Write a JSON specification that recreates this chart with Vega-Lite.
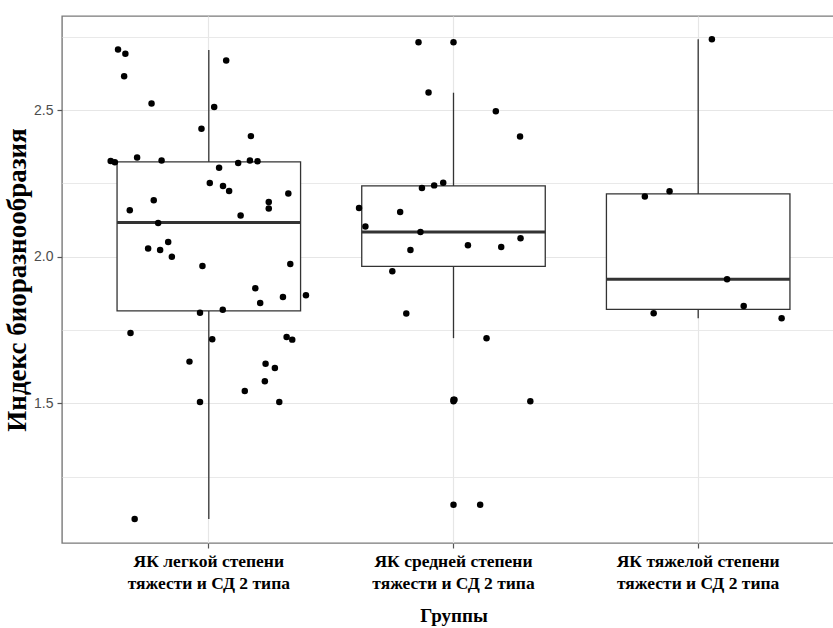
{
  "$schema": "https://vega.github.io/schema/vega-lite/v6.json",
  "width": 783,
  "height": 527,
  "autosize": {"type": "none"},
  "padding": {"left": 62, "top": 16, "right": 0, "bottom": 85},
  "background": "white",
  "resolve": {"scale": {"xOffset": "independent"}},
  "datasets": {
    "stats": [
      {"g": "ЯК легкой степени тяжести и СД 2 типа", "lower": 1.105, "q1": 1.815, "median": 2.116, "q3": 2.323, "upper": 2.705},
      {"g": "ЯК средней степени тяжести и СД 2 типа", "lower": 1.722, "q1": 1.967, "median": 2.084, "q3": 2.241, "upper": 2.559},
      {"g": "ЯК тяжелой степени тяжести и СД 2 типа", "lower": 1.790, "q1": 1.820, "median": 1.923, "q3": 2.214, "upper": 2.741}
    ],
    "outliers": [
      {"g": "ЯК средней степени тяжести и СД 2 типа", "value": 2.731},
      {"g": "ЯК средней степени тяжести и СД 2 типа", "value": 1.512},
      {"g": "ЯК средней степени тяжести и СД 2 типа", "value": 1.507},
      {"g": "ЯК средней степени тяжести и СД 2 типа", "value": 1.154}
    ],
    "points": [
      {"g": "ЯК легкой степени тяжести и СД 2 типа", "value": 2.706, "j": -0.371},
      {"g": "ЯК легкой степени тяжести и СД 2 типа", "value": 2.692, "j": -0.341},
      {"g": "ЯК легкой степени тяжести и СД 2 типа", "value": 2.615, "j": -0.346},
      {"g": "ЯК легкой степени тяжести и СД 2 типа", "value": 2.522, "j": -0.234},
      {"g": "ЯК легкой степени тяжести и СД 2 типа", "value": 2.669, "j": 0.071},
      {"g": "ЯК легкой степени тяжести и СД 2 типа", "value": 2.510, "j": 0.022},
      {"g": "ЯК легкой степени тяжести и СД 2 типа", "value": 2.436, "j": -0.030},
      {"g": "ЯК легкой степени тяжести и СД 2 типа", "value": 2.411, "j": 0.172},
      {"g": "ЯК легкой степени тяжести и СД 2 типа", "value": 2.326, "j": -0.401},
      {"g": "ЯК легкой степени тяжести и СД 2 типа", "value": 2.322, "j": -0.384},
      {"g": "ЯК легкой степени тяжести и СД 2 типа", "value": 2.338, "j": -0.293},
      {"g": "ЯК легкой степени тяжести и СД 2 типа", "value": 2.328, "j": -0.193},
      {"g": "ЯК легкой степени тяжести и СД 2 типа", "value": 2.303, "j": 0.042},
      {"g": "ЯК легкой степени тяжести и СД 2 типа", "value": 2.319, "j": 0.120},
      {"g": "ЯК легкой степени тяжести и СД 2 типа", "value": 2.328, "j": 0.168},
      {"g": "ЯК легкой степени тяжести и СД 2 типа", "value": 2.325, "j": 0.199},
      {"g": "ЯК легкой степени тяжести и СД 2 типа", "value": 2.251, "j": 0.004},
      {"g": "ЯК легкой степени тяжести и СД 2 типа", "value": 2.241, "j": 0.058},
      {"g": "ЯК легкой степени тяжести и СД 2 типа", "value": 2.224, "j": 0.083},
      {"g": "ЯК легкой степени тяжести и СД 2 типа", "value": 2.215, "j": 0.325},
      {"g": "ЯК легкой степени тяжести и СД 2 типа", "value": 2.192, "j": -0.225},
      {"g": "ЯК легкой степени тяжести и СД 2 типа", "value": 2.158, "j": -0.323},
      {"g": "ЯК легкой степени тяжести и СД 2 типа", "value": 2.186, "j": 0.245},
      {"g": "ЯК легкой степени тяжести и СД 2 типа", "value": 2.164, "j": 0.245},
      {"g": "ЯК легкой степени тяжести и СД 2 типа", "value": 2.140, "j": 0.130},
      {"g": "ЯК легкой степени тяжести и СД 2 типа", "value": 2.115, "j": -0.207},
      {"g": "ЯК легкой степени тяжести и СД 2 типа", "value": 2.050, "j": -0.166},
      {"g": "ЯК легкой степени тяжести и СД 2 типа", "value": 2.028, "j": -0.248},
      {"g": "ЯК легкой степени тяжести и СД 2 типа", "value": 2.023, "j": -0.199},
      {"g": "ЯК легкой степени тяжести и СД 2 типа", "value": 2.000, "j": -0.151},
      {"g": "ЯК легкой степени тяжести и СД 2 типа", "value": 1.968, "j": -0.026},
      {"g": "ЯК легкой степени тяжести и СД 2 типа", "value": 1.975, "j": 0.333},
      {"g": "ЯК легкой степени тяжести и СД 2 типа", "value": 1.892, "j": 0.190},
      {"g": "ЯК легкой степени тяжести и СД 2 типа", "value": 1.862, "j": 0.303},
      {"g": "ЯК легкой степени тяжести и СД 2 типа", "value": 1.868, "j": 0.397},
      {"g": "ЯК легкой степени тяжести и СД 2 типа", "value": 1.842, "j": 0.210},
      {"g": "ЯК легкой степени тяжести и СД 2 типа", "value": 1.809, "j": -0.036},
      {"g": "ЯК легкой степени тяжести и СД 2 типа", "value": 1.819, "j": 0.057},
      {"g": "ЯК легкой степени тяжести и СД 2 типа", "value": 1.740, "j": -0.320},
      {"g": "ЯК легкой степени тяжести и СД 2 типа", "value": 1.718, "j": 0.014},
      {"g": "ЯК легкой степени тяжести и СД 2 типа", "value": 1.726, "j": 0.318},
      {"g": "ЯК легкой степени тяжести и СД 2 типа", "value": 1.717, "j": 0.341},
      {"g": "ЯК легкой степени тяжести и СД 2 типа", "value": 1.642, "j": -0.079},
      {"g": "ЯК легкой степени тяжести и СД 2 типа", "value": 1.635, "j": 0.232},
      {"g": "ЯК легкой степени тяжести и СД 2 типа", "value": 1.620, "j": 0.270},
      {"g": "ЯК легкой степени тяжести и СД 2 типа", "value": 1.575, "j": 0.229},
      {"g": "ЯК легкой степени тяжести и СД 2 типа", "value": 1.542, "j": 0.147},
      {"g": "ЯК легкой степени тяжести и СД 2 типа", "value": 1.504, "j": -0.036},
      {"g": "ЯК легкой степени тяжести и СД 2 типа", "value": 1.504, "j": 0.288},
      {"g": "ЯК легкой степени тяжести и СД 2 типа", "value": 1.105, "j": -0.303},
      {"g": "ЯК средней степени тяжести и СД 2 типа", "value": 2.731, "j": -0.143},
      {"g": "ЯК средней степени тяжести и СД 2 типа", "value": 2.560, "j": -0.102},
      {"g": "ЯК средней степени тяжести и СД 2 типа", "value": 2.496, "j": 0.173},
      {"g": "ЯК средней степени тяжести и СД 2 типа", "value": 2.410, "j": 0.272},
      {"g": "ЯК средней степени тяжести и СД 2 типа", "value": 2.234, "j": -0.129},
      {"g": "ЯК средней степени тяжести и СД 2 типа", "value": 2.243, "j": -0.079},
      {"g": "ЯК средней степени тяжести и СД 2 типа", "value": 2.252, "j": -0.042},
      {"g": "ЯК средней степени тяжести и СД 2 типа", "value": 2.166, "j": -0.386},
      {"g": "ЯК средней степени тяжести и СД 2 типа", "value": 2.152, "j": -0.218},
      {"g": "ЯК средней степени тяжести и СД 2 типа", "value": 2.103, "j": -0.360},
      {"g": "ЯК средней степени тяжести и СД 2 типа", "value": 2.084, "j": -0.135},
      {"g": "ЯК средней степени тяжести и СД 2 типа", "value": 2.023, "j": -0.176},
      {"g": "ЯК средней степени тяжести и СД 2 типа", "value": 2.039, "j": 0.059},
      {"g": "ЯК средней степени тяжести и СД 2 типа", "value": 2.033, "j": 0.195},
      {"g": "ЯК средней степени тяжести и СД 2 типа", "value": 2.063, "j": 0.274},
      {"g": "ЯК средней степени тяжести и СД 2 типа", "value": 1.950, "j": -0.250},
      {"g": "ЯК средней степени тяжести и СД 2 типа", "value": 1.806, "j": -0.193},
      {"g": "ЯК средней степени тяжести и СД 2 типа", "value": 1.722, "j": 0.135},
      {"g": "ЯК средней степени тяжести и СД 2 типа", "value": 1.512, "j": 0.004},
      {"g": "ЯК средней степени тяжести и СД 2 типа", "value": 1.507, "j": 0.314},
      {"g": "ЯК средней степени тяжести и СД 2 типа", "value": 1.154, "j": 0.109},
      {"g": "ЯК тяжелой степени тяжести и СД 2 типа", "value": 2.741, "j": 0.056},
      {"g": "ЯК тяжелой степени тяжести и СД 2 типа", "value": 2.205, "j": -0.218},
      {"g": "ЯК тяжелой степени тяжести и СД 2 типа", "value": 2.223, "j": -0.117},
      {"g": "ЯК тяжелой степени тяжести и СД 2 типа", "value": 1.923, "j": 0.118},
      {"g": "ЯК тяжелой степени тяжести и СД 2 типа", "value": 1.832, "j": 0.186},
      {"g": "ЯК тяжелой степени тяжести и СД 2 типа", "value": 1.807, "j": -0.182},
      {"g": "ЯК тяжелой степени тяжести и СД 2 типа", "value": 1.790, "j": 0.341}
    ]
  },
  "config": {
    "view": {"stroke": "#7a7a7a", "strokeWidth": 1.4},
    "axis": {
      "domain": false,
      "gridColor": "#e6e6e6",
      "tickColor": "#555555",
      "tickSize": 5,
      "tickWidth": 1.2,
      "titleColor": "#000000",
      "titleFont": "Liberation Serif",
      "titleFontWeight": "bold"
    }
  },
  "encoding": {
    "x": {
      "field": "g",
      "type": "nominal",
      "sort": ["ЯК легкой степени тяжести и СД 2 типа", "ЯК средней степени тяжести и СД 2 типа", "ЯК тяжелой степени тяжести и СД 2 типа"],
      "scale": {"paddingInner": 0.25, "paddingOuter": 0.225},
      "title": "Группы",
      "axis": {
        "labelAngle": 0,
        "labelFont": "Liberation Serif",
        "labelFontWeight": "bold",
        "labelFontSize": 17.5,
        "labelColor": "#000000",
        "labelLineHeight": 22,
        "labelPadding": 4,
        "labelLimit": 300,
        "labelExpr": "[slice(datum.label, 0, indexof(datum.label, ' тяжести и')), slice(datum.label, indexof(datum.label, ' тяжести и') + 1)]",
        "titleFontSize": 19,
        "titlePadding": 15,
        "grid": true,
        "gridWidth": 1.2
      }
    }
  },
  "layer": [
    {
      "data": {"name": "stats"},
      "mark": {"type": "rule", "color": "#333333", "strokeWidth": 1.3},
      "encoding": {
        "y": {
          "field": "lower",
          "type": "quantitative",
          "title": "Индекс биоразнообразия",
          "scale": {"domain": [1.0235, 2.8206], "nice": false, "zero": false},
          "axis": {
            "values": [1.25, 1.5, 1.75, 2, 2.25, 2.5, 2.75],
            "format": ".1f",
            "labelExpr": "(datum.value * 2) % 1 == 0 ? datum.label : ''",
            "labelFont": "Liberation Sans",
            "labelFontSize": 14,
            "labelColor": "#4d4d4d",
            "labelPadding": 4,
            "tickOpacity": {"condition": {"test": "(datum.value * 2) % 1 == 0", "value": 1}, "value": 0},
            "grid": true,
            "gridWidth": {"condition": {"test": "(datum.value * 2) % 1 == 0", "value": 1.2}, "value": 0.9},
            "titleFontSize": 27,
            "titlePadding": 2
          }
        },
        "y2": {"field": "upper"}
      }
    },
    {
      "data": {"name": "stats"},
      "mark": {"type": "bar", "fill": "white", "stroke": "#333333", "strokeWidth": 1.3, "opacity": 1},
      "encoding": {
        "y": {"field": "q1", "type": "quantitative", "title": "Индекс биоразнообразия"},
        "y2": {"field": "q3"}
      }
    },
    {
      "data": {"name": "stats"},
      "mark": {"type": "tick", "color": "#333333", "thickness": 3, "opacity": 1},
      "encoding": {
        "y": {"field": "median", "type": "quantitative", "title": "Индекс биоразнообразия"}
      }
    },
    {
      "data": {"name": "outliers"},
      "mark": {"type": "circle", "color": "#000000", "size": 42, "opacity": 1},
      "encoding": {
        "y": {"field": "value", "type": "quantitative", "title": "Индекс биоразнообразия"}
      }
    },
    {
      "data": {"name": "points"},
      "mark": {"type": "circle", "color": "#000000", "size": 42, "opacity": 1},
      "encoding": {
        "y": {"field": "value", "type": "quantitative", "title": "Индекс биоразнообразия"},
        "xOffset": {"field": "j", "type": "quantitative", "scale": {"domain": [-0.375, 0.375]}}
      }
    }
  ]
}
